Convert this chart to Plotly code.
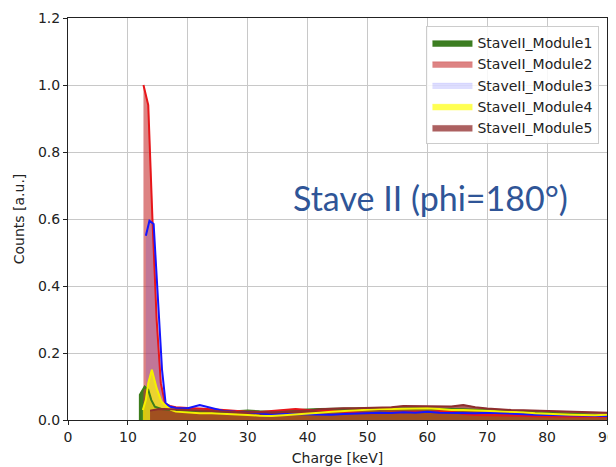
import plotly.graph_objects as go

# ---- data ----
TAIL_X = [18, 20, 22, 24, 26, 28, 30, 32, 34, 36, 38, 40, 42, 44, 46, 48, 50, 52, 54,
          56, 58, 60, 62, 64, 66, 68, 70, 72, 74, 76, 78, 80, 82, 84, 86, 88, 90]

m1_peak_x = [12.0, 12.0, 12.8, 13.4, 13.9, 14.5, 15.6, 16.6]
m1_peak_y = [0.0, 0.075, 0.10, 0.09, 0.06, 0.04, 0.033, 0.03]
m1_tail = [0.028, 0.027, 0.026, 0.026, 0.025, 0.026, 0.028, 0.026, 0.025, 0.027, 0.030,
           0.031, 0.033, 0.034, 0.035, 0.035, 0.035, 0.034, 0.033, 0.034, 0.035, 0.035,
           0.034, 0.033, 0.032, 0.030, 0.028, 0.027, 0.026, 0.025, 0.023, 0.021, 0.020,
           0.018, 0.017, 0.016, 0.015]

m2_peak_x = [12.6, 13.4, 14.1, 14.8, 15.5, 16.2, 17.0]
m2_peak_y = [1.0, 0.94, 0.60, 0.30, 0.11, 0.05, 0.042]
m2_tail = [0.038, 0.036, 0.035, 0.032, 0.030, 0.027, 0.025, 0.024, 0.026, 0.030, 0.033,
           0.030, 0.030, 0.027, 0.026, 0.022, 0.020, 0.021, 0.023, 0.025, 0.025, 0.024,
           0.026, 0.025, 0.018, 0.015, 0.015, 0.014, 0.013, 0.013, 0.011, 0.010, 0.011,
           0.010, 0.010, 0.011, 0.010]

m3_peak_x = [13.0, 13.6, 14.3, 15.0, 15.7, 16.3, 17.0]
m3_peak_y = [0.55, 0.595, 0.585, 0.37, 0.15, 0.05, 0.04]
m3_tail = [0.036, 0.035, 0.045, 0.036, 0.027, 0.025, 0.024, 0.020, 0.016, 0.018, 0.017,
           0.018, 0.017, 0.016, 0.018, 0.020, 0.020, 0.022, 0.021, 0.023, 0.022, 0.025,
           0.022, 0.021, 0.022, 0.020, 0.022, 0.020, 0.018, 0.017, 0.016, 0.015, 0.014,
           0.013, 0.013, 0.012, 0.012]

m4_peak_x = [12.5, 13.0, 13.4, 14.0, 14.8, 15.6, 16.4, 17.2]
m4_peak_y = [0.03, 0.06, 0.11, 0.15, 0.095, 0.055, 0.041, 0.03]
m4_tail = [0.025, 0.022, 0.020, 0.020, 0.019, 0.017, 0.015, 0.013, 0.012, 0.014, 0.016,
           0.020, 0.022, 0.025, 0.027, 0.030, 0.030, 0.033, 0.033, 0.034, 0.036, 0.035,
           0.033, 0.030, 0.030, 0.029, 0.027, 0.026, 0.024, 0.023, 0.020, 0.018, 0.017,
           0.016, 0.015, 0.014, 0.016]

m5_peak_x = [13.7, 14.3, 15.0, 16.0, 17.0]
m5_peak_y = [0.028, 0.030, 0.032, 0.033, 0.033]
m5_tail = [0.031, 0.030, 0.028, 0.027, 0.025, 0.024, 0.023, 0.022, 0.023, 0.024, 0.025,
           0.028, 0.032, 0.034, 0.035, 0.035, 0.036, 0.037, 0.038, 0.042, 0.041, 0.040,
           0.039, 0.040, 0.045, 0.038, 0.034, 0.031, 0.030, 0.029, 0.028, 0.027, 0.025,
           0.023, 0.022, 0.021, 0.022]

NAMES = ["StaveII_Module1", "StaveII_Module2", "StaveII_Module3",
         "StaveII_Module4", "StaveII_Module5"]
X_TICKS = [0, 10, 20, 30, 40, 50, 60, 70, 80, 90]
Y_TICKS = [0.0, 0.2, 0.4, 0.6, 0.8, 1.0, 1.2]

series = [
    (m1_peak_x, m1_peak_y, m1_tail, "#3c7d1c", "rgba(45,115,15,0.92)"),
    (m2_peak_x, m2_peak_y, m2_tail, "#e8161a", "rgba(200,55,55,0.62)"),
    (m3_peak_x, m3_peak_y, m3_tail, "#1515ff", "rgba(60,60,255,0.17)"),
    (m4_peak_x, m4_peak_y, m4_tail, "#f5f000", "rgba(255,255,0,0.68)"),
    (m5_peak_x, m5_peak_y, m5_tail, "#8e2e2e", "rgba(140,35,35,0.72)"),
]

fig = go.Figure()
# filled areas first (these carry the legend entries)
for name, (px, py, tail, lc, fc) in zip(NAMES, series):
    fig.add_trace(go.Scatter(
        x=list(px) + TAIL_X, y=list(py) + tail, name=name, mode="lines",
        line=dict(color=fc, width=0.5), fill="tozeroy", fillcolor=fc,
    ))
# outline curves on top of all fills
for name, (px, py, tail, lc, fc) in zip(NAMES, series):
    fig.add_trace(go.Scatter(
        x=list(px) + TAIL_X, y=list(py) + tail, name=name, mode="lines",
        line=dict(color=lc, width=2), showlegend=False, hoverinfo="skip",
    ))

fig.add_annotation(x=60.5, y=0.665, xref="x", yref="y", text="Stave II (phi=180°)",
                   showarrow=False, xanchor="center", yanchor="middle",
                   font=dict(family="Lato", size=34, color="#2f5597"))

axis_common = dict(showgrid=True, gridcolor="#c8c8c8", gridwidth=1, showline=True,
                   linecolor="#222", linewidth=1, mirror=True, ticks="outside",
                   ticklen=4, tickcolor="#222", zeroline=False, automargin=False,
                   tickfont=dict(family="DejaVu Sans", size=14, color="#222"))

# the page body adds an 8px offset, so the figure is 8px smaller and margins shifted
fig.update_layout(
    width=608, height=459,
    margin=dict(l=60, r=9, t=10, b=47),
    plot_bgcolor="white", paper_bgcolor="white",
    showlegend=True,
    legend=dict(x=0.986, y=0.98, xanchor="right", yanchor="top",
                bgcolor="rgba(255,255,255,0.85)", bordercolor="#cccccc", borderwidth=1,
                font=dict(family="DejaVu Sans", size=14, color="#222"),
                itemwidth=40, tracegroupgap=0),
    xaxis=dict(range=[0, 90], tickvals=X_TICKS, ticktext=[str(v) for v in X_TICKS],
               title=dict(text="Charge [keV]", font=dict(family="DejaVu Sans", size=14, color="#222"),
                          standoff=9),
               **axis_common),
    yaxis=dict(range=[0, 1.2], tickvals=Y_TICKS, ticktext=[f"{v:.1f}" for v in Y_TICKS],
               title=dict(text="Counts [a.u.]", font=dict(family="DejaVu Sans", size=14, color="#222"),
                          standoff=10),
               **axis_common),
)

fig.write_html("out.html")
